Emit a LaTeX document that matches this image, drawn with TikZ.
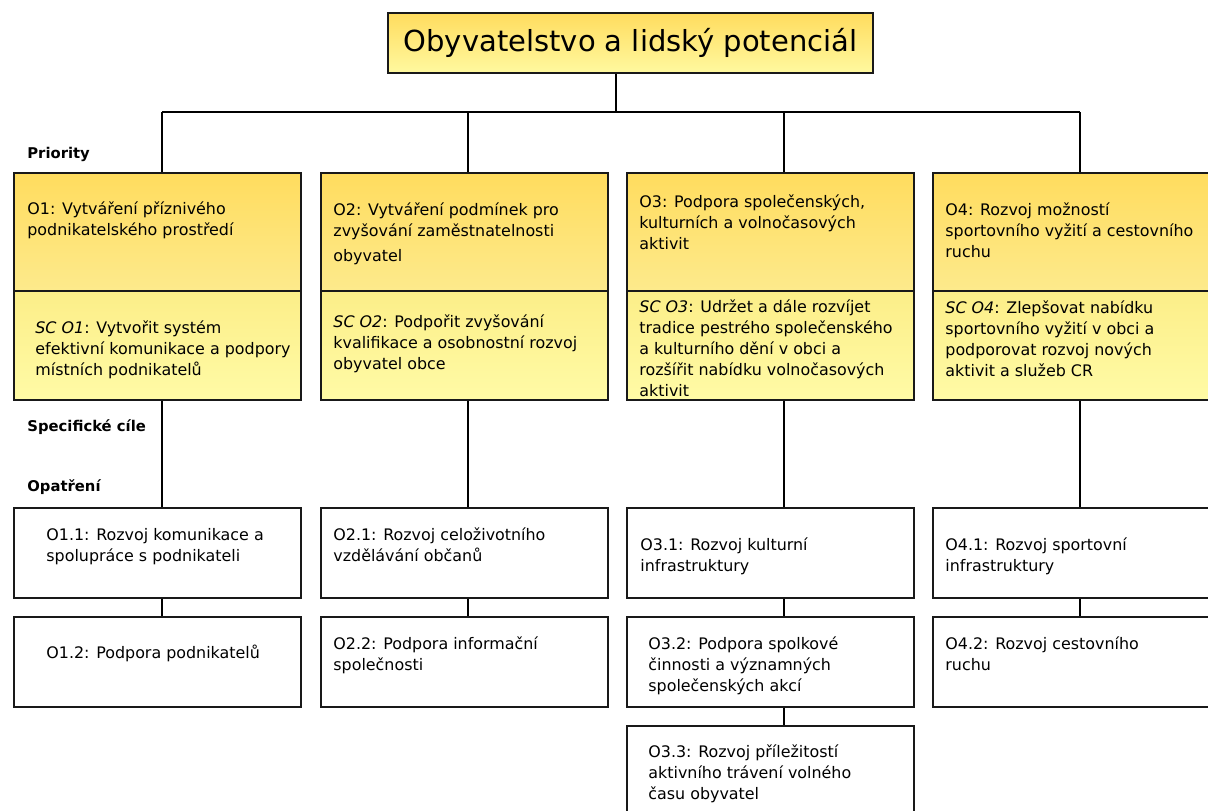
\documentclass[tikz,border=0pt]{standalone}
\usepackage{fontspec}
\setmainfont{DejaVu Sans}
\usetikzlibrary{positioning}

\definecolor{titletop}{HTML}{FFDC5E}
\definecolor{titlebot}{HTML}{FFF9A0}
\definecolor{goldtop}{HTML}{FFDC5E}
\definecolor{goldbot}{HTML}{FDEA8C}
\definecolor{lemtop}{HTML}{FCEE88}
\definecolor{lembot}{HTML}{FFFBA6}

\tikzset{
	boxline/.style={draw=black!90, line width=0.75pt},
	hlavni/.style={boxline, top color=titletop, bottom color=titlebot, minimum width=242.5pt, minimum height=30pt, font=\fontsize{14.5}{16}\selectfont},
	priorita/.style={boxline, top color=goldtop, bottom color=goldbot, anchor=north west, minimum width=143.5pt, minimum height=59pt},
	cil/.style={boxline, top color=lemtop, bottom color=lembot, anchor=north west, minimum width=143.5pt, minimum height=54.5pt},
	opatreni/.style={boxline, fill=white, anchor=north west, minimum width=143.5pt, minimum height=45pt},
	popis/.style={anchor=north west, inner sep=0pt, align=left, font=\fontsize{7.95}{10.5}\selectfont},
	uroven/.style={anchor=base west, inner sep=0pt, font=\fontsize{7.4}{9}\selectfont\bfseries},
	spoj/.style={line width=0.75pt}
}

\begin{document}
	\begin{tikzpicture}[x=0.5pt, y=-0.5pt]
		\useasboundingbox (0,0) rectangle (1208,810);
		
		\node[hlavni] (top) at (630.5,43) {Obyvatelstvo a lidský potenciál};
		
		\coordinate (b0) at (616,112);
		\coordinate (b1) at (162,112);
		\coordinate (b2) at (468,112);
		\coordinate (b3) at (784,112);
		\coordinate (b4) at (1080,112);
		
		\node[priorita] (p1) at (13,172) {};
		\node[priorita] (p2) at (320,172) {};
		\node[priorita] (p3) at (626,172) {};
		\node[priorita] (p4) at (932,172) {};
		
		\node[cil] (s1) at (13,290) {};
		\node[cil] (s2) at (320,290) {};
		\node[cil] (s3) at (626,290) {};
		\node[cil] (s4) at (932,290) {};
		
		\node[opatreni] (m11) at (13,507) {};
		\node[opatreni] (m12) at (13,616) {};
		\node[opatreni] (m21) at (320,507) {};
		\node[opatreni] (m22) at (320,616) {};
		\node[opatreni] (m31) at (626,507) {};
		\node[opatreni] (m32) at (626,616) {};
		\node[opatreni] (m33) at (626,725) {};
		\node[opatreni] (m41) at (932,507) {};
		\node[opatreni] (m42) at (932,616) {};
		
		\node[uroven] (priority) at (27,158) {Priority};
		\node[uroven] (cile) at (27,431) {Specifické cíle};
		\node[uroven] (opat) at (27,491) {Opatření};
		
		\node[popis] (tp1) at (27,199) {\strut O1: Vytváření příznivého\\podnikatelského prostředí};
		\node[popis] (tp2) at (333,200) {\strut O2: Vytváření podmínek pro\\zvyšování zaměstnatelnosti\\[2pt]obyvatel};
		\node[popis] (tp3) at (639,192) {\strut O3: Podpora společenských,\\kulturních a volnočasových\\aktivit};
		\node[popis] (tp4) at (945,200) {\strut O4: Rozvoj možností\\sportovního vyžití a cestovního\\ruchu};
		
		\node[popis] (ts1) at (35,318) {\strut\textit{SC O1}: Vytvořit systém\\efektivní komunikace a podpory\\místních podnikatelů};
		\node[popis] (ts2) at (333,312) {\strut\textit{SC O2}: Podpořit zvyšování\\kvalifikace a osobnostní rozvoj\\obyvatel obce};
		\node[popis] (ts3) at (639,297) {\strut\textit{SC O3}: Udržet a dále rozvíjet\\tradice pestrého společenského\\a kulturního dění v obci a\\rozšířit nabídku volnočasových\\aktivit};
		\node[popis] (ts4) at (945,298) {\strut\textit{SC O4}: Zlepšovat nabídku\\sportovního vyžití v obci a\\podporovat rozvoj nových\\aktivit a služeb CR};
		
		\node[popis] (tm11) at (46,525) {\strut O1.1: Rozvoj komunikace a\\spolupráce s podnikateli};
		\node[popis] (tm12) at (46,643) {\strut O1.2: Podpora podnikatelů};
		\node[popis] (tm21) at (333,525) {\strut O2.1: Rozvoj celoživotního\\vzdělávání občanů};
		\node[popis] (tm22) at (333,634) {\strut O2.2: Podpora informační\\společnosti};
		\node[popis] (tm31) at (640,535) {\strut O3.1: Rozvoj kulturní\\infrastruktury};
		\node[popis] (tm32) at (648,634) {\strut O3.2: Podpora spolkové\\činnosti a významných\\společenských akcí};
		\node[popis] (tm33) at (648,742) {\strut O3.3: Rozvoj příležitostí\\aktivního trávení volného\\času obyvatel};
		\node[popis] (tm41) at (945,535) {\strut O4.1: Rozvoj sportovní\\infrastruktury};
		\node[popis] (tm42) at (945,634) {\strut O4.2: Rozvoj cestovního\\ruchu};
		
		\draw[spoj] (top.south -| b0) -- (b0);
		\draw[spoj] (b1) -- (b4);
		\draw[spoj] (b1) -- (b1 |- p1.north);
		\draw[spoj] (b2) -- (b2 |- p2.north);
		\draw[spoj] (b3) -- (b3 |- p3.north);
		\draw[spoj] (b4) -- (b4 |- p4.north);
		
		\draw[spoj] (b1 |- s1.south) -- (b1 |- m11.north);
		\draw[spoj] (b2 |- s2.south) -- (b2 |- m21.north);
		\draw[spoj] (b3 |- s3.south) -- (b3 |- m31.north);
		\draw[spoj] (b4 |- s4.south) -- (b4 |- m41.north);
		
		\draw[spoj] (b1 |- m11.south) -- (b1 |- m12.north);
		\draw[spoj] (b2 |- m21.south) -- (b2 |- m22.north);
		\draw[spoj] (b3 |- m31.south) -- (b3 |- m32.north);
		\draw[spoj] (b3 |- m32.south) -- (b3 |- m33.north);
		\draw[spoj] (b4 |- m41.south) -- (b4 |- m42.north);
	\end{tikzpicture}
\end{document}
